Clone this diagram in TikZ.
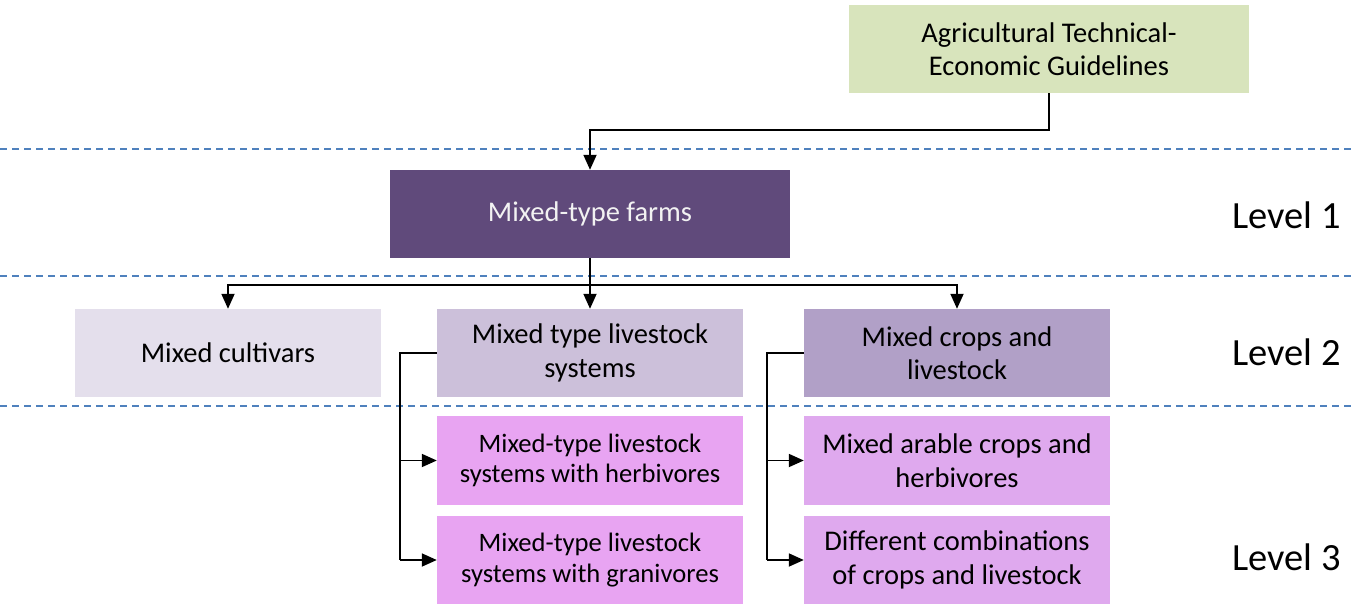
\documentclass[tikz,border=0pt]{standalone}
\usepackage{fontspec}
\setmainfont{Carlito}
\usetikzlibrary{arrows.meta}
\definecolor{guideGreen}{HTML}{D8E4BC}
\definecolor{farmPurple}{HTML}{604A7B}
\definecolor{cultLilac}{HTML}{E4DFEC}
\definecolor{liveLilac}{HTML}{CCC0DA}
\definecolor{cropLilac}{HTML}{B1A0C7}
\definecolor{subPinkA}{HTML}{E8A4F2}
\definecolor{subPinkB}{HTML}{DFA9EE}
\definecolor{levelLine}{HTML}{4F81BD}
\tikzset{
  box/.style={draw=none, inner sep=0pt, align=center, font=\fontsize{28.5}{33.5}\selectfont},
  smallbox/.style={box, font=\fontsize{26.6}{30.5}\selectfont},
  conn/.style={line width=1.8pt, -{Triangle[length=15pt,width=13pt]}},
  plainconn/.style={line width=1.8pt},
  levelsep/.style={levelLine, line width=1.3pt, dash pattern=on 7pt off 5pt},
  levellabel/.style={anchor=east, inner sep=0pt, font=\fontsize{38.5}{44}\selectfont},
}
\begin{document}
\begin{tikzpicture}[x=1pt, y=-1pt]
  \useasboundingbox (0,0) rectangle (1352,605);

  % level separators
  \draw[levelsep] (0,149) -- (1352,149);
  \draw[levelsep] (0,276) -- (1352,276);
  \draw[levelsep] (0,406) -- (1352,406);

  % boxes
  \node[box, fill=guideGreen, minimum width=400pt, minimum height=88pt] (guide) at (1049,49)
    {Agricultural Technical-\\Economic Guidelines};
  \node[box, fill=farmPurple, text=white!95!black, minimum width=400pt, minimum height=88pt] (farms) at (590,214)
    {Mixed-type farms};
  \node[box, fill=cultLilac, minimum width=306pt, minimum height=88pt] (cult) at (228,353)
    {Mixed cultivars};
  \node[box, fill=liveLilac, minimum width=306pt, minimum height=88pt] (live) at (590,353)
    {Mixed type livestock\\systems};
  \node[box, fill=cropLilac, minimum width=306pt, minimum height=88pt] (crop) at (957,353)
    {Mixed crops and\\livestock};
  \node[smallbox, fill=subPinkA, minimum width=306pt, minimum height=89pt] (herb) at (590,460.5)
    {Mixed-type livestock\\systems with herbivores};
  \node[smallbox, fill=subPinkA, minimum width=306pt, minimum height=88pt] (gran) at (590,560)
    {Mixed-type livestock\\systems with granivores};
  \node[box, fill=subPinkB, minimum width=306pt, minimum height=89pt] (arable) at (957,460.5)
    {Mixed arable crops and\\herbivores};
  \node[box, fill=subPinkB, minimum width=306pt, minimum height=88pt] (combo) at (957,560)
    {Different combinations\\of crops and livestock};

  % level labels
  \node[levellabel] (lv1) at (1341,215) {Level 1};
  \node[levellabel] (lv2) at (1341,352) {Level 2};
  \node[levellabel] (lv3) at (1341,557) {Level 3};

  % connectors
  \coordinate (guideBend) at (1049,130);
  \coordinate (farmsSplit) at (590,285);
  \draw[conn] (guide.south) -- (guideBend) -| (farms.north);
  \draw[plainconn] (farms.south) -- (farmsSplit);
  \draw[conn] (farmsSplit) -| (cult.north);
  \draw[conn] (farmsSplit) -- (live.north);
  \draw[conn] (farmsSplit) -| (crop.north);

  \coordinate (liveRail) at (400,353);
  \coordinate (cropRail) at (767,353);
  \draw[plainconn] (live.west) -- (liveRail) -- (liveRail |- gran.west);
  \draw[conn] (liveRail |- herb.west) -- (herb.west);
  \draw[conn] (liveRail |- gran.west) -- (gran.west);
  \draw[plainconn] (crop.west) -- (cropRail) -- (cropRail |- combo.west);
  \draw[conn] (cropRail |- arable.west) -- (arable.west);
  \draw[conn] (cropRail |- combo.west) -- (combo.west);
\end{tikzpicture}
\end{document}
